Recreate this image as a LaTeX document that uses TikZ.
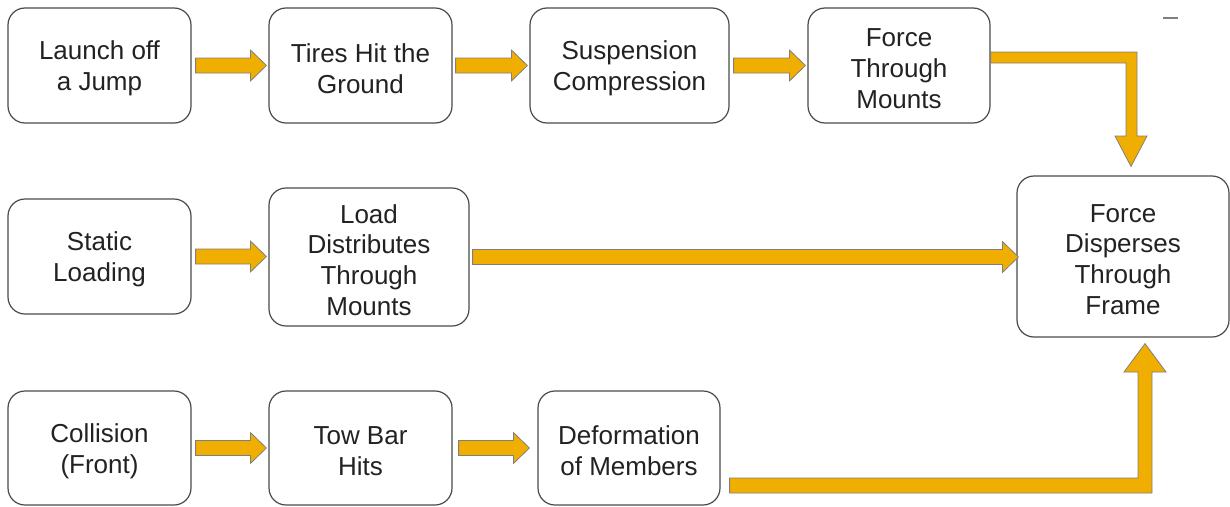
\documentclass[tikz,border=0pt]{standalone}
\usepackage{fontspec}
\setmainfont{Liberation Sans}
\usetikzlibrary{calc}
\definecolor{arrowfill}{HTML}{F0AE00}
\definecolor{arrowline}{HTML}{7F7F7F}
\definecolor{boxline}{HTML}{4A4A4A}
\definecolor{txt}{HTML}{222222}
\newcommand\harr[2]{%
  \path let \p1=(#1), \p2=(#2) in [blockarrow]
    (\x1,\y1+7.5pt) -- (\x2-16pt,\y1+7.5pt) -- (\x2-16pt,\y1+15.5pt) -- (\x2,\y1)
    -- (\x2-16pt,\y1-15.5pt) -- (\x2-16pt,\y1-7.5pt) -- (\x1,\y1-7.5pt) -- cycle;}
\begin{document}
\begin{tikzpicture}[x=1pt,y=-1pt,
  box/.style={draw=boxline, line width=1.2pt, rounded corners=17pt, fill=white,
    inner sep=0pt},
  lbl/.style={align=center, text=txt, inner sep=0pt, yshift=-3pt,
    font=\fontsize{26}{30.8}\selectfont},
  blockarrow/.style={fill=arrowfill, draw=arrowline, line width=0.8pt}]
\useasboundingbox (0,0) rectangle (1230,506);
% row 1
\node[box, minimum width=183pt, minimum height=115pt, label={[lbl]center:{Launch off\\a Jump}}] (b1) at (99.5,65.5) {};
\node[box, minimum width=183pt, minimum height=115pt, label={[lbl]center:{Tires Hit the\\Ground}}] (b2) at (360.5,65.5) {};
\node[box, minimum width=199pt, minimum height=115pt, label={[lbl]center:{Suspension\\Compression}}] (b3) at (629.5,65.5) {};
\node[box, minimum width=182pt, minimum height=115pt, label={[lbl]center:{Force\\Through\\Mounts}}] (b4) at (899,65.5) {};
% row 2
\node[box, minimum width=183pt, minimum height=115pt, label={[lbl]center:{Static\\Loading}}] (b5) at (99.5,256.5) {};
\node[box, minimum width=200pt, minimum height=138pt, label={[lbl]center:{Load\\Distributes\\Through\\Mounts}}] (b6) at (369,257) {};
\node[box, minimum width=212pt, minimum height=161pt, label={[lbl]center:{Force\\Disperses\\Through\\Frame}}] (b7) at (1123,256.5) {};
% row 3
\node[box, minimum width=183pt, minimum height=114pt, label={[lbl]center:{Collision\\(Front)}}] (b8) at (99.5,448) {};
\node[box, minimum width=183pt, minimum height=114pt, label={[lbl]center:{Tow Bar\\Hits}}] (b9) at (360.5,448) {};
\node[box, minimum width=182pt, minimum height=114pt, label={[lbl]center:{Deformation\\of Members}}] (b10) at (629,448) {};
% straight block arrows
\harr{$(b1.east)+(4,0)$}{$(b2.west)+(-2,0)$}
\harr{$(b2.east)+(3,0)$}{$(b3.west)+(-2,0)$}
\harr{$(b3.east)+(4,0)$}{$(b4.west)+(-2,0)$}
\harr{$(b5.east)+(4,0)$}{$(b6.west)+(-2,0)$}
\harr{$(b6.east)+(3,0)$}{$(b7.west |- b6.east)+(2,0)$}
\harr{$(b8.east)+(4,0)$}{$(b9.west)+(-2,0)$}
\harr{$(b9.east)+(6,0)$}{$(b10.west)+(-8,0)$}
% bent arrow from b4 to b7
\coordinate (t0) at ($(b4.east)+(0,-8)$);
\coordinate (t1) at ($(b7.north)+(8,-9)$);
\path[blockarrow] (t0 |- 0,52) -- (1137,52) -- (1137,136) -- (1147,136) -- (t1)
  -- (1115,136) -- (1126,136) -- (1126,63) -- (t0 |- 0,63) -- cycle;
% bent arrow from b10 to b7
\coordinate (u0) at ($(b10.east)+(9,0)$);
\coordinate (u1) at ($(b7.south)+(22,6)$);
\path[blockarrow] (u0 |- 0,478) -- (1138,478) -- (1138,372) -- (1124,372) -- (u1)
  -- (1166,372) -- (1152,372) -- (1152,493) -- (u0 |- 0,493) -- cycle;
% small mark top right
\draw[arrowline, line width=1.5pt] (1163,18) -- (1178,18);
\end{tikzpicture}
\end{document}
